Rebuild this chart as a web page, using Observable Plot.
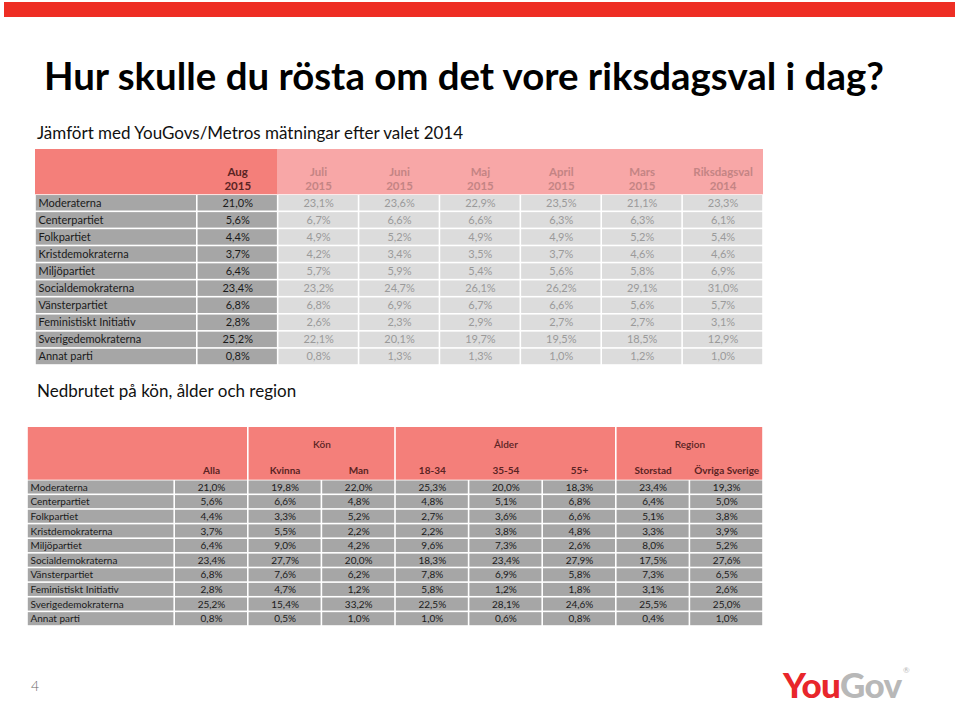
<!DOCTYPE html>
<html><head><meta charset="utf-8">
<script src="https://cdn.jsdelivr.net/npm/d3@7"></script>
<script src="https://cdn.jsdelivr.net/npm/@observablehq/plot@0.6"></script>
<style>
body{margin:0;background:#fff;font-family:Lato,"Open Sans",sans-serif;}
#page{position:relative;width:960px;height:706px;overflow:hidden;background:#fff;}
.abs{position:absolute;white-space:nowrap;line-height:1.2;}
#bar{left:4px;top:2px;width:951px;height:15px;background:#ee2e24;}
#title{left:44px;top:52px;font-size:38.4px;font-weight:700;color:#000;}
#sub1{left:37px;top:123px;font-size:17px;color:#111;}
#sub2{left:37px;top:381px;font-size:17px;color:#111;}
#t1{left:35px;top:149px;line-height:normal;}
#t2{left:27px;top:427px;line-height:normal;}
#pnum{left:31px;top:678px;font-size:14px;color:#666;font-weight:300;}
#logo{left:783px;top:663px;font-size:35px;font-weight:900;letter-spacing:-0.6px;}
#logo .you{color:#e8262b;}
#logo .gov{color:#b8b8b8;}
#reg{left:903px;top:666px;font-size:8px;color:#b8b8b8;}
</style></head>
<body><div id="page">
<div id="bar" class="abs"></div>
<div id="title" class="abs">Hur skulle du rösta om det vore riksdagsval i dag?</div>
<div id="sub1" class="abs">Jämfört med YouGovs/Metros mätningar efter valet 2014</div>
<div id="t1" class="abs"></div>
<div id="sub2" class="abs">Nedbrutet på kön, ålder och region</div>
<div id="t2" class="abs"></div>
<div id="pnum" class="abs">4</div>
<div id="logo" class="abs"><span class="you">You</span><span class="gov">Gov</span></div>
<div id="reg" class="abs">®</div>
</div>
<script>
// ---------- data ----------
const parties = ["Moderaterna","Centerpartiet","Folkpartiet","Kristdemokraterna","Miljöpartiet","Socialdemokraterna","Vänsterpartiet","Feministiskt Initiativ","Sverigedemokraterna","Annat parti"];

const monthNames = ["Aug","Juli","Juni","Maj","April","Mars","Riksdagsval"];
const monthYears = ["2015","2015","2015","2015","2015","2015","2014"];
const aug2015  = [21.0,5.6,4.4,3.7,6.4,23.4,6.8,2.8,25.2,0.8];
const juli2015 = [23.1,6.7,4.9,4.2,5.7,23.2,6.8,2.6,22.1,0.8];
const juni2015 = [23.6,6.6,5.2,3.4,5.9,24.7,6.9,2.3,20.1,1.3];
const maj2015  = [22.9,6.6,4.9,3.5,5.4,26.1,6.7,2.9,19.7,1.3];
const april2015= [23.5,6.3,4.9,3.7,5.6,26.2,6.6,2.7,19.5,1.0];
const mars2015 = [21.1,6.3,5.2,4.6,5.8,29.1,5.6,2.7,18.5,1.2];
const val2014  = [23.3,6.1,5.4,4.6,6.9,31.0,5.7,3.1,12.9,1.0];
const series1 = [aug2015,juli2015,juni2015,maj2015,april2015,mars2015,val2014];

const groupNames = ["","Kön","Ålder","Region"];
const groupCols = [["Alla"],["Kvinna","Man"],["18-34","35-54","55+"],["Storstad","Övriga Sverige"]];
const alla     = [21.0,5.6,4.4,3.7,6.4,23.4,6.8,2.8,25.2,0.8];
const kvinna   = [19.8,6.6,3.3,5.5,9.0,27.7,7.6,4.7,15.4,0.5];
const man      = [22.0,4.8,5.2,2.2,4.2,20.0,6.2,1.2,33.2,1.0];
const age1834  = [25.3,4.8,2.7,2.2,9.6,18.3,7.8,5.8,22.5,1.0];
const age3554  = [20.0,5.1,3.6,3.8,7.3,23.4,6.9,1.2,28.1,0.6];
const age55    = [18.3,6.8,6.6,4.8,2.6,27.9,5.8,1.8,24.6,0.8];
const storstad = [23.4,6.4,5.1,3.3,8.0,17.5,7.3,3.1,25.5,0.4];
const ovriga   = [19.3,5.0,3.8,3.9,5.2,27.6,6.5,2.6,25.0,1.0];
const series2 = [alla,kvinna,man,age1834,age3554,age55,storstad,ovriga];

// ---------- helpers ----------
const fmt = v => d3.format(".1f")(v).replace(".", ",") + "%";
const FONT = "Lato";
const SALMON = "#f47f7a", PINK = "#f8a7a7", DARK = "#a6a6a6", LIGHT = "#dcdcdc";

// ---------- table 1 ----------
{
  const HDR = 2.65, LBL = 2;
  const ncol = LBL + monthNames.length;
  const header = [
    {x1: 0, x2: LBL + 1, y1: -HDR, y2: 0, fill: SALMON},
    {x1: LBL + 1, x2: ncol, y1: -HDR, y2: 0, fill: PINK}
  ];
  const cells = [], labels = [], values = [];
  parties.forEach((p, i) => {
    cells.push({x1: 0, x2: LBL, y1: i, y2: i + 1, fill: DARK});
    labels.push({x: 0, y: i + 0.5, text: p});
    series1.forEach((s, k) => {
      cells.push({x1: LBL + k, x2: LBL + k + 1, y1: i, y2: i + 1, fill: k === 0 ? DARK : LIGHT});
      values.push({x: LBL + k + 0.5, y: i + 0.5, text: fmt(s[i]), color: k === 0 ? "#1a1a1a" : "#9a9a9a", weight: k === 0 ? 600 : 400});
    });
  });
  const heads = monthNames.map((m, k) => ({x: LBL + k + 0.5, y: -0.95, text: m + "\n" + monthYears[k], color: k === 0 ? "#5a2424" : "#c48484"}));
  const W = 728, H = 216;
  const chart = Plot.plot({
    width: W, height: H, margin: 0,
    x: {type: "linear", domain: [0, ncol], range: [0, W], axis: null},
    y: {type: "linear", domain: [-HDR, 10], range: [0, H], axis: null},
    color: {type: "identity"},
    style: {fontFamily: FONT, background: "transparent"},
    marks: [
      Plot.rect(header, {x1: "x1", x2: "x2", y1: "y1", y2: "y2", fill: "fill"}),
      Plot.rect(cells, {x1: "x1", x2: "x2", y1: "y1", y2: "y2", fill: "fill", inset: 0.8}),
      Plot.text(labels, {x: "x", y: "y", text: "text", textAnchor: "start", dx: 3, fill: "#1a1a1a", fontSize: 11}),
      Plot.text(values, {x: "x", y: "y", text: "text", fill: "color", fontSize: 11, fontWeight: "weight"}),
      Plot.text(heads, {x: "x", y: "y", text: "text", fill: "color", fontSize: 11.5, fontWeight: 700, lineHeight: 1.25})
    ]
  });
  document.getElementById("t1").appendChild(chart);
}

// ---------- table 2 ----------
{
  const HDR = 3.6, LBL = 2;
  const allCols = groupCols.flat();
  const ncol = LBL + allCols.length;
  const header = [], groupLabels = [], colHeads = [];
  let start = LBL;
  groupCols.forEach((cols, g) => {
    const x1 = g === 0 ? 0 : start, x2 = start + cols.length;
    header.push({x1, x2, y1: -HDR, y2: 0});
    if (groupNames[g]) groupLabels.push({x: (start + x2) / 2, y: -2.44, text: groupNames[g]});
    cols.forEach((c, j) => colHeads.push({x: start + j + 0.5, y: -0.66, text: c}));
    start = x2;
  });
  const cells = [], labels = [], values = [];
  parties.forEach((p, i) => {
    cells.push({x1: 0, x2: LBL, y1: i, y2: i + 1});
    labels.push({x: 0, y: i + 0.5, text: p});
    series2.forEach((s, k) => {
      cells.push({x1: LBL + k, x2: LBL + k + 1, y1: i, y2: i + 1});
      values.push({x: LBL + k + 0.5, y: i + 0.5, text: fmt(s[i])});
    });
  });
  const W = 736, H = 199;
  const chart = Plot.plot({
    width: W, height: H, margin: 0,
    x: {type: "linear", domain: [0, ncol], range: [0, W], axis: null},
    y: {type: "linear", domain: [-HDR, 10], range: [0, H], axis: null},
    style: {fontFamily: FONT, background: "transparent"},
    marks: [
      Plot.rect(header, {x1: "x1", x2: "x2", y1: "y1", y2: "y2", fill: SALMON, insetLeft: 0.8, insetRight: 0.8}),
      Plot.rect(cells, {x1: "x1", x2: "x2", y1: "y1", y2: "y2", fill: DARK, inset: 0.8}),
      Plot.text(labels, {x: "x", y: "y", text: "text", textAnchor: "start", dx: 3, fill: "#1a1a1a", fontSize: 10}),
      Plot.text(values, {x: "x", y: "y", text: "text", fill: "#1a1a1a", fontSize: 10}),
      Plot.text(groupLabels, {x: "x", y: "y", text: "text", fill: "#5a2424", fontSize: 10, fontWeight: 600}),
      Plot.text(colHeads, {x: "x", y: "y", text: "text", fill: "#5a2424", fontSize: 10, fontWeight: 700})
    ]
  });
  document.getElementById("t2").appendChild(chart);
}
</script>
</body></html>
